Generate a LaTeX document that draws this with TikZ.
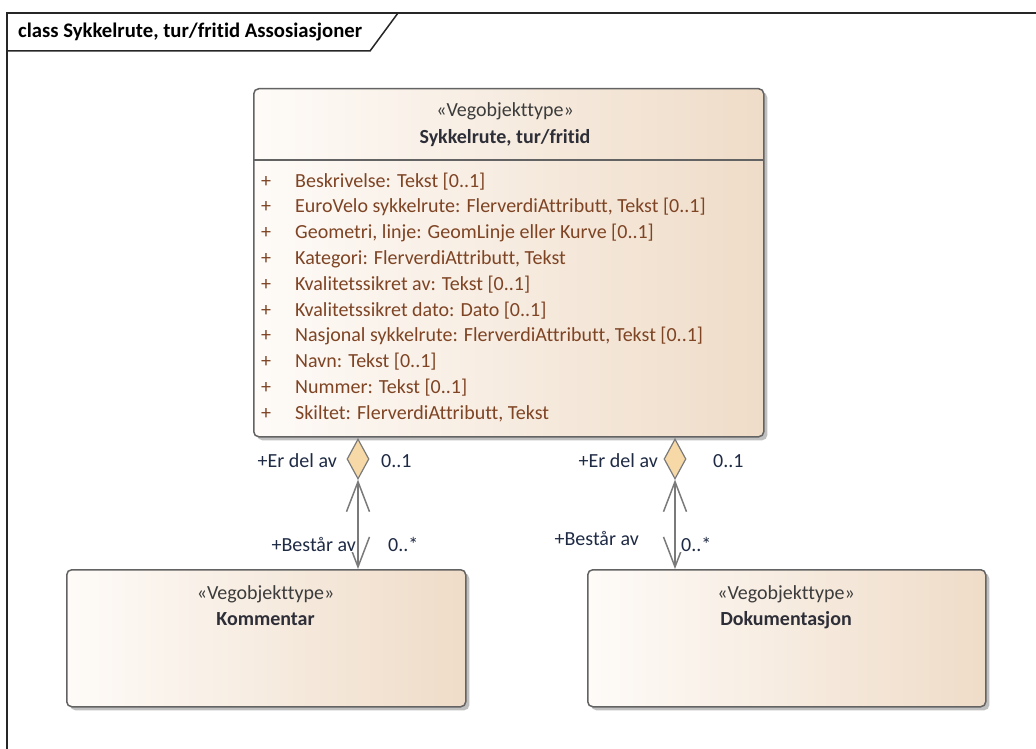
\documentclass[tikz,border=0pt]{standalone}
\usepackage{fontspec}
\setmainfont{Carlito}[Ligatures=NoCommon]
\usetikzlibrary{shapes.geometric,arrows.meta,shadows}
\definecolor{boxL}{HTML}{FEFBF8}
\definecolor{boxR}{HTML}{EFDCC8}
\definecolor{boxBorder}{HTML}{636363}
\definecolor{attrCol}{HTML}{7E4424}
\definecolor{stereoCol}{HTML}{3C3C3C}
\definecolor{nameCol}{HTML}{2E2E38}
\definecolor{lblCol}{HTML}{1F2B45}
\definecolor{aggFill}{HTML}{F6D9A6}
\definecolor{lineCol}{HTML}{7A7A7A}
\begin{document}
\begin{tikzpicture}[x=1pt,y=-1pt,
  txt/.style={inner sep=0pt,font=\fontsize{20}{24}\selectfont},
  umlbox/.style={draw=boxBorder,line width=1.5pt,rounded corners=5pt,
    left color=boxL,right color=boxR,inner sep=0pt,
    drop shadow={shadow xshift=3.5pt,shadow yshift=-3.5pt,fill=black!50,opacity=0.5}},
  attr/.style={txt,text=attrCol,anchor=base west},
  stereo/.style={txt,text=stereoCol,anchor=base},
  cname/.style={txt,text=nameCol,anchor=base,font=\fontsize{20}{24}\selectfont\bfseries},
  lbl/.style={txt,text=lblCol,fill=white,inner sep=1pt},
  agg/.style={diamond,draw=lineCol,fill=aggFill,line width=1.2pt,
    minimum width=22pt,minimum height=40pt,inner sep=0pt},
  assoc/.style={draw=lineCol,line width=1.5pt,
    {Straight Barb[length=30pt,width=23pt,line width=1.5pt]}-{Straight Barb[length=30pt,width=23pt,line width=1.5pt]}},
  frameline/.style={draw=black!85,line width=1.5pt}
]
\useasboundingbox (0,0) rectangle (1036,749);

% frame
\draw[frameline] (7,749) -- (7,13) -- (1036,13);
\draw[frameline] (7,51) -- (370,51) -- (398,13);
\node[txt,anchor=base west,font=\fontsize{20.7}{24}\selectfont\bfseries] (title) at (18,38) {class Sykkelrute, tur/fritid Assosiasjoner};

% main class
\node[umlbox,minimum width=510pt,minimum height=348pt,anchor=north west] (main) at (253,88) {};
\draw[draw=boxBorder,line width=1.4pt] (253,160) -- (763,160);
\node[stereo] (mainSt) at (505,117) {«Vegobjekttype»};
\node[cname] (mainNm) at (505,144) {Sykkelrute, tur/fritid};

\foreach \i/\t in {0/{Beskrivelse: Tekst [0..1]},
  1/{EuroVelo sykkelrute: FlerverdiAttributt, Tekst [0..1]},
  2/{Geometri, linje: GeomLinje eller Kurve [0..1]},
  3/{Kategori: FlerverdiAttributt, Tekst},
  4/{Kvalitetssikret av: Tekst [0..1]},
  5/{Kvalitetssikret dato: Dato [0..1]},
  6/{Nasjonal sykkelrute: FlerverdiAttributt, Tekst [0..1]},
  7/{Navn: Tekst [0..1]},
  8/{Nummer: Tekst [0..1]},
  9/{Skiltet: FlerverdiAttributt, Tekst}}{
  \node[attr] (plus\i) at (261,187+25.8*\i) {+};
  \node[attr] (attr\i) at (295,187+25.8*\i) {\t};
}

% Kommentar
\node[umlbox,minimum width=399pt,minimum height=137pt,anchor=north west] (komm) at (66,569) {};
\node[stereo] (kommSt) at (265.5,599) {«Vegobjekttype»};
\node[cname] (kommNm) at (265.5,625) {Kommentar};

% Dokumentasjon
\node[umlbox,minimum width=398pt,minimum height=137pt,anchor=north west] (dok) at (587,569) {};
\node[stereo] (dokSt) at (786,599) {«Vegobjekttype»};
\node[cname] (dokNm) at (786,625) {Dokumentasjon};

% aggregation diamonds
\node[agg] (dA) at (358,459) {};
\node[agg] (dB) at (675,459) {};

% connectors
\draw[assoc] (dA.south) -- (dA.south |- komm.north);
\draw[assoc] (dB.south) -- (dB.south |- dok.north);

% labels
\node[lbl,anchor=base east] (l1) at (338,467) {+Er del av};
\node[lbl,anchor=base west] (l2) at (380,467) {0..1};
\node[lbl,anchor=base east] (l3) at (357,551) {+Består av};
\node[lbl,anchor=base west] (l4) at (387,551) {0..*};

\node[lbl,anchor=base east] (r1) at (659,467) {+Er del av};
\node[lbl,anchor=base west] (r2) at (712,467) {0..1};
\node[lbl,anchor=base east] (r3) at (640,545) {+Består av};
\node[lbl,anchor=base west] (r4) at (680,551) {0..*};
\end{tikzpicture}
\end{document}
